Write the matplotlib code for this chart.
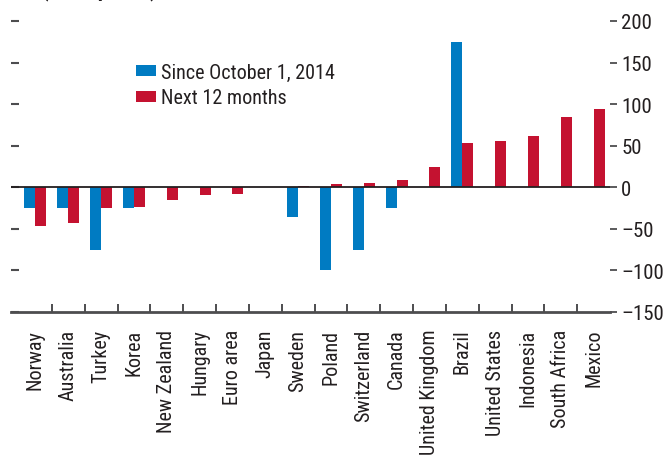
import matplotlib
matplotlib.use("Agg")
import matplotlib.pyplot as plt
import numpy as np
from matplotlib.ticker import FixedLocator, NullFormatter

plt.rcParams['font.family'] = ['Roboto Condensed', 'DejaVu Sans']

categories = ["Norway", "Australia", "Turkey", "Korea", "New Zealand", "Hungary",
              "Euro area", "Japan", "Sweden", "Poland", "Switzerland", "Canada",
              "United Kingdom", "Brazil", "United States", "Indonesia",
              "South Africa", "Mexico"]
since_oct_2014 = [-25, -25, -75, -25, 0, 0, 0, 0, -36, -100, -75, -25,
                  0, 175, 0, 0, 0, 0]
next_12_months = [-47, -43, -25, -24, -15, -9, -8, 0, 1, 4, 5, 9,
                  25, 53, 56, 62, 85, 94]
series_labels = ["Since October 1, 2014", "Next 12 months"]
yticks = [-150, -100, -50, 0, 50, 100, 150, 200]
ytick_labels = ["\u2013150", "\u2013100", "\u201350", "0", "50", "100", "150", "200"]
title_fragment = "(basis points)"

blue = "#007BC2"
red = "#C41230"
dark = "#231F20"
gray = "#4D4D4F"

W, H = 666, 456
fig = plt.figure(figsize=(W / 100, H / 100), dpi=100)
ax = fig.add_axes([11 / W, 1 - 313 / H, (610 - 11) / W, (313 - 22) / H])

x = np.arange(len(categories))
bw = 0.335
ax.bar(x - bw / 2, since_oct_2014, width=bw, color=blue, label=series_labels[0], zorder=2)
ax.bar(x + bw / 2, next_12_months, width=bw, color=red, label=series_labels[1], zorder=2)
ax.axhline(0, color=dark, lw=1.3, zorder=3)

ax.set_xlim(-0.744, len(categories) - 0.5)
ax.set_ylim(-150, 200)

for s in ["top", "right", "left"]:
    ax.spines[s].set_visible(False)
ax.spines["bottom"].set_color(gray)
ax.spines["bottom"].set_linewidth(2)

# x ticks: labels at centers, separator ticks at boundaries
ax.set_xticks(x)
ax.set_xticklabels(categories, rotation=90, fontsize=14.5, color=dark)
ax.tick_params(axis="x", which="major", length=0, pad=12)
ax.xaxis.set_minor_locator(FixedLocator(np.arange(0.5, len(categories) - 1, 1.0)))
ax.xaxis.set_minor_formatter(NullFormatter())
ax.tick_params(axis="x", which="minor", direction="in", length=5.5, width=1.4, color=gray)

# left ticks inward, no labels
ax.set_yticks(yticks)
ax.tick_params(axis="y", which="major", left=True, direction="in", length=5.5, width=1.5,
               color=gray, labelleft=False)

# right axis with labels
ax2 = ax.twinx()
ax2.set_ylim(ax.get_ylim())
for s in ax2.spines.values():
    s.set_visible(False)
ax2.set_yticks(yticks)
ax2.set_yticklabels(ytick_labels)
ax2.tick_params(axis="y", direction="out", length=5, width=1.3, color=gray,
                labelsize=15, labelcolor=dark, pad=3)

leg = ax.legend(loc="upper left", bbox_to_anchor=(136 / W, 1 - 64 / H),
                bbox_transform=fig.transFigure, frameon=False, fontsize=14.5,
                handlelength=1.0, handleheight=0.45, handletextpad=0.25,
                labelspacing=0.32, borderpad=0, borderaxespad=0)
for t in leg.get_texts():
    t.set_color(dark)

fig.text(42 / W, 1.0 + 4 / H, title_fragment, ha="left", va="baseline", fontsize=15,
         fontweight="bold", color=dark)

fig.savefig("out.png", dpi=100)
